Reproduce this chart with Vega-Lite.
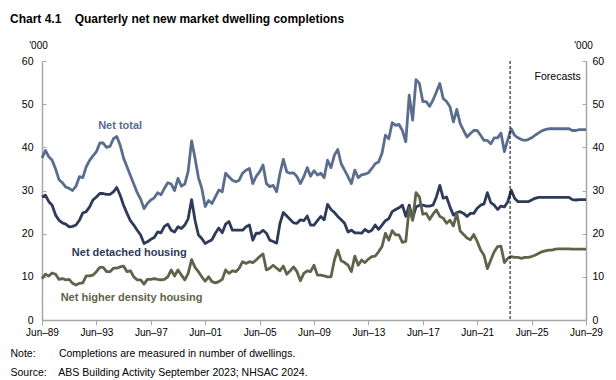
{
  "$schema": "https://vega.github.io/schema/vega-lite/v6.json",
  "width": 544,
  "height": 259,
  "autosize": {"type": "none"},
  "padding": {"left": 42, "top": 61, "right": 30, "bottom": 60},
  "background": "white",
  "config": {"view": {"stroke": null}, "font": "Liberation Sans"},
  "title": {
    "text": "Chart 4.1\u00a0\u00a0\u00a0\u00a0Quarterly net new market dwelling completions",
    "anchor": "start",
    "frame": "group",
    "font": "Liberation Sans",
    "fontSize": 12,
    "fontWeight": "bold",
    "color": "#000000",
    "dx": -32,
    "offset": 14
  },
  "layer": [
    {
      "data": {
        "values": [
          {"d":"1989-06-01","t":37.5,"dh":28.5,"hd":9.6},
          {"d":"1989-09-01","t":39.3,"dh":28.9,"hd":10.6},
          {"d":"1989-12-01","t":37.8,"dh":27.4,"hd":10.2},
          {"d":"1990-03-01","t":37.0,"dh":26.6,"hd":10.9},
          {"d":"1990-06-01","t":35.0,"dh":24.3,"hd":10.6},
          {"d":"1990-09-01","t":32.5,"dh":23.1,"hd":9.4},
          {"d":"1990-12-01","t":31.8,"dh":22.5,"hd":9.6},
          {"d":"1991-03-01","t":30.8,"dh":22.2,"hd":9.3},
          {"d":"1991-06-01","t":30.5,"dh":21.6,"hd":9.4},
          {"d":"1991-09-01","t":30.0,"dh":21.7,"hd":8.5},
          {"d":"1991-12-01","t":31.0,"dh":22.0,"hd":8.1},
          {"d":"1992-03-01","t":33.2,"dh":23.1,"hd":8.5},
          {"d":"1992-06-01","t":33.0,"dh":24.8,"hd":8.6},
          {"d":"1992-09-01","t":35.5,"dh":25.1,"hd":10.2},
          {"d":"1992-12-01","t":37.0,"dh":26.2,"hd":10.2},
          {"d":"1993-03-01","t":38.0,"dh":27.8,"hd":10.4},
          {"d":"1993-06-01","t":39.0,"dh":28.5,"hd":11.2},
          {"d":"1993-09-01","t":41.0,"dh":29.3,"hd":12.2},
          {"d":"1993-12-01","t":41.0,"dh":29.3,"hd":12.2},
          {"d":"1994-03-01","t":40.0,"dh":29.1,"hd":11.2},
          {"d":"1994-06-01","t":40.2,"dh":29.1,"hd":11.2},
          {"d":"1994-09-01","t":42.0,"dh":29.7,"hd":12.0},
          {"d":"1994-12-01","t":42.5,"dh":30.7,"hd":12.0},
          {"d":"1995-03-01","t":40.5,"dh":28.9,"hd":12.3},
          {"d":"1995-06-01","t":37.5,"dh":26.6,"hd":12.5},
          {"d":"1995-09-01","t":35.5,"dh":24.7,"hd":11.2},
          {"d":"1995-12-01","t":33.5,"dh":23.0,"hd":11.4},
          {"d":"1996-03-01","t":31.5,"dh":22.0,"hd":10.0},
          {"d":"1996-06-01","t":29.5,"dh":20.8,"hd":9.3},
          {"d":"1996-09-01","t":28.0,"dh":19.7,"hd":9.3},
          {"d":"1996-12-01","t":25.8,"dh":17.7,"hd":8.3},
          {"d":"1997-03-01","t":27.0,"dh":18.1,"hd":9.4},
          {"d":"1997-06-01","t":27.8,"dh":18.7,"hd":9.4},
          {"d":"1997-09-01","t":28.3,"dh":19.1,"hd":9.6},
          {"d":"1997-12-01","t":29.5,"dh":20.4,"hd":9.4},
          {"d":"1998-03-01","t":29.0,"dh":20.2,"hd":9.3},
          {"d":"1998-06-01","t":30.5,"dh":21.7,"hd":9.4},
          {"d":"1998-09-01","t":31.8,"dh":22.2,"hd":10.0},
          {"d":"1998-12-01","t":31.5,"dh":20.8,"hd":11.6},
          {"d":"1999-03-01","t":30.0,"dh":20.4,"hd":10.2},
          {"d":"1999-06-01","t":32.8,"dh":21.6,"hd":11.6},
          {"d":"1999-09-01","t":31.0,"dh":21.2,"hd":10.4},
          {"d":"1999-12-01","t":31.5,"dh":22.0,"hd":9.3},
          {"d":"2000-03-01","t":34.5,"dh":23.5,"hd":10.8},
          {"d":"2000-06-01","t":41.5,"dh":27.9,"hd":14.0},
          {"d":"2000-09-01","t":37.5,"dh":23.1,"hd":12.2},
          {"d":"2000-12-01","t":33.0,"dh":19.7,"hd":11.2},
          {"d":"2001-03-01","t":30.5,"dh":18.9,"hd":10.0},
          {"d":"2001-06-01","t":26.3,"dh":17.7,"hd":9.0},
          {"d":"2001-09-01","t":27.7,"dh":18.2,"hd":10.0},
          {"d":"2001-12-01","t":27.0,"dh":18.6,"hd":8.9},
          {"d":"2002-03-01","t":28.5,"dh":20.1,"hd":8.6},
          {"d":"2002-06-01","t":30.1,"dh":21.3,"hd":8.9},
          {"d":"2002-09-01","t":29.7,"dh":20.2,"hd":9.4},
          {"d":"2002-12-01","t":34.0,"dh":22.2,"hd":11.6},
          {"d":"2003-03-01","t":33.2,"dh":22.8,"hd":10.8},
          {"d":"2003-06-01","t":32.4,"dh":20.8,"hd":11.4},
          {"d":"2003-09-01","t":32.0,"dh":20.8,"hd":11.2},
          {"d":"2003-12-01","t":32.4,"dh":20.8,"hd":12.0},
          {"d":"2004-03-01","t":34.0,"dh":20.8,"hd":13.5},
          {"d":"2004-06-01","t":34.7,"dh":21.6,"hd":13.1},
          {"d":"2004-09-01","t":35.1,"dh":22.0,"hd":13.5},
          {"d":"2004-12-01","t":31.6,"dh":18.5,"hd":13.3},
          {"d":"2005-03-01","t":33.3,"dh":20.1,"hd":13.9},
          {"d":"2005-06-01","t":34.3,"dh":20.1,"hd":14.7},
          {"d":"2005-09-01","t":35.9,"dh":20.8,"hd":15.3},
          {"d":"2005-12-01","t":31.6,"dh":20.1,"hd":11.6},
          {"d":"2006-03-01","t":30.9,"dh":18.5,"hd":12.0},
          {"d":"2006-06-01","t":31.2,"dh":18.2,"hd":12.7},
          {"d":"2006-09-01","t":29.7,"dh":17.8,"hd":12.0},
          {"d":"2006-12-01","t":34.0,"dh":22.4,"hd":11.4},
          {"d":"2007-03-01","t":37.2,"dh":24.9,"hd":12.5},
          {"d":"2007-06-01","t":34.3,"dh":24.1,"hd":10.6},
          {"d":"2007-09-01","t":34.0,"dh":23.3,"hd":11.4},
          {"d":"2007-12-01","t":34.1,"dh":22.5,"hd":12.3},
          {"d":"2008-03-01","t":33.2,"dh":22.4,"hd":11.2},
          {"d":"2008-06-01","t":31.6,"dh":23.2,"hd":9.1},
          {"d":"2008-09-01","t":33.2,"dh":23.0,"hd":10.8},
          {"d":"2008-12-01","t":35.3,"dh":24.1,"hd":11.4},
          {"d":"2009-03-01","t":33.3,"dh":22.0,"hd":11.2},
          {"d":"2009-06-01","t":34.6,"dh":22.0,"hd":12.7},
          {"d":"2009-09-01","t":33.6,"dh":23.0,"hd":10.4},
          {"d":"2009-12-01","t":34.0,"dh":24.0,"hd":10.4},
          {"d":"2010-03-01","t":33.0,"dh":23.2,"hd":10.2},
          {"d":"2010-06-01","t":37.0,"dh":26.8,"hd":10.0},
          {"d":"2010-09-01","t":35.3,"dh":25.6,"hd":10.0},
          {"d":"2010-12-01","t":38.2,"dh":24.9,"hd":13.9},
          {"d":"2011-03-01","t":39.5,"dh":24.0,"hd":16.2},
          {"d":"2011-06-01","t":36.2,"dh":23.2,"hd":13.7},
          {"d":"2011-09-01","t":34.7,"dh":22.4,"hd":13.3},
          {"d":"2011-12-01","t":33.2,"dh":20.4,"hd":12.7},
          {"d":"2012-03-01","t":31.6,"dh":20.8,"hd":11.2},
          {"d":"2012-06-01","t":34.7,"dh":20.2,"hd":14.8},
          {"d":"2012-09-01","t":33.0,"dh":20.2,"hd":12.7},
          {"d":"2012-12-01","t":33.6,"dh":20.1,"hd":13.9},
          {"d":"2013-03-01","t":33.8,"dh":21.0,"hd":13.3},
          {"d":"2013-06-01","t":34.1,"dh":20.4,"hd":14.1},
          {"d":"2013-09-01","t":35.1,"dh":20.8,"hd":14.7},
          {"d":"2013-12-01","t":36.2,"dh":22.0,"hd":14.8},
          {"d":"2014-03-01","t":36.6,"dh":21.0,"hd":15.8},
          {"d":"2014-06-01","t":38.6,"dh":22.0,"hd":17.0},
          {"d":"2014-09-01","t":42.8,"dh":23.0,"hd":20.1},
          {"d":"2014-12-01","t":42.0,"dh":23.5,"hd":18.5},
          {"d":"2015-03-01","t":45.7,"dh":25.1,"hd":20.7},
          {"d":"2015-06-01","t":45.1,"dh":25.6,"hd":19.7},
          {"d":"2015-09-01","t":45.3,"dh":26.0,"hd":19.7},
          {"d":"2015-12-01","t":43.9,"dh":26.6,"hd":18.0},
          {"d":"2016-03-01","t":41.3,"dh":24.0,"hd":18.2},
          {"d":"2016-06-01","t":52.1,"dh":26.6,"hd":25.9},
          {"d":"2016-09-01","t":46.3,"dh":23.5,"hd":23.1},
          {"d":"2016-12-01","t":55.7,"dh":26.2,"hd":29.5},
          {"d":"2017-03-01","t":54.8,"dh":26.6,"hd":28.5},
          {"d":"2017-06-01","t":50.6,"dh":26.6,"hd":24.5},
          {"d":"2017-09-01","t":50.6,"dh":26.4,"hd":24.7},
          {"d":"2017-12-01","t":49.5,"dh":26.4,"hd":23.3},
          {"d":"2018-03-01","t":50.9,"dh":26.6,"hd":24.5},
          {"d":"2018-06-01","t":52.8,"dh":28.5,"hd":25.5},
          {"d":"2018-09-01","t":54.8,"dh":31.2,"hd":24.0},
          {"d":"2018-12-01","t":51.3,"dh":28.2,"hd":23.6},
          {"d":"2019-03-01","t":50.6,"dh":28.5,"hd":22.4},
          {"d":"2019-06-01","t":49.4,"dh":26.2,"hd":23.1},
          {"d":"2019-09-01","t":45.9,"dh":24.3,"hd":21.8},
          {"d":"2019-12-01","t":48.8,"dh":24.9,"hd":24.7},
          {"d":"2020-03-01","t":45.5,"dh":25.1,"hd":20.6},
          {"d":"2020-06-01","t":43.9,"dh":24.7,"hd":19.8},
          {"d":"2020-09-01","t":42.4,"dh":24.0,"hd":19.0},
          {"d":"2020-12-01","t":43.2,"dh":24.7,"hd":18.6},
          {"d":"2021-03-01","t":43.9,"dh":24.7,"hd":19.8},
          {"d":"2021-06-01","t":43.9,"dh":25.9,"hd":18.2},
          {"d":"2021-09-01","t":42.8,"dh":26.6,"hd":16.2},
          {"d":"2021-12-01","t":41.6,"dh":26.9,"hd":15.0},
          {"d":"2022-03-01","t":41.6,"dh":29.5,"hd":11.9},
          {"d":"2022-06-01","t":40.8,"dh":27.2,"hd":13.9},
          {"d":"2022-09-01","t":42.2,"dh":26.6,"hd":15.8},
          {"d":"2022-12-01","t":42.2,"dh":25.6,"hd":17.0},
          {"d":"2023-03-01","t":43.3,"dh":26.4,"hd":17.1},
          {"d":"2023-06-01","t":39.0,"dh":26.2,"hd":13.3},
          {"d":"2023-09-01","t":41.8,"dh":27.4,"hd":14.3},
          {"d":"2023-12-01","t":44.3,"dh":30.1,"hd":14.7},
          {"d":"2024-03-01","t":42.8,"dh":28.2,"hd":14.5},
          {"d":"2024-06-01","t":42.2,"dh":27.4,"hd":14.5},
          {"d":"2024-09-01","t":41.8,"dh":27.4,"hd":14.3},
          {"d":"2024-12-01","t":41.6,"dh":27.4,"hd":14.5},
          {"d":"2025-03-01","t":41.8,"dh":27.4,"hd":14.5},
          {"d":"2025-06-01","t":42.2,"dh":27.8,"hd":14.7},
          {"d":"2025-09-01","t":42.8,"dh":28.2,"hd":15.0},
          {"d":"2025-12-01","t":43.3,"dh":28.4,"hd":15.4},
          {"d":"2026-03-01","t":43.8,"dh":28.4,"hd":15.8},
          {"d":"2026-06-01","t":44.1,"dh":28.4,"hd":16.0},
          {"d":"2026-09-01","t":44.3,"dh":28.4,"hd":16.2},
          {"d":"2026-12-01","t":44.3,"dh":28.4,"hd":16.2},
          {"d":"2027-03-01","t":44.3,"dh":28.4,"hd":16.4},
          {"d":"2027-06-01","t":44.3,"dh":28.4,"hd":16.5},
          {"d":"2027-09-01","t":44.3,"dh":28.4,"hd":16.5},
          {"d":"2027-12-01","t":44.3,"dh":28.4,"hd":16.5},
          {"d":"2028-03-01","t":44.3,"dh":28.4,"hd":16.5},
          {"d":"2028-06-01","t":43.9,"dh":27.9,"hd":16.4},
          {"d":"2028-09-01","t":43.9,"dh":27.8,"hd":16.4},
          {"d":"2028-12-01","t":44.1,"dh":27.9,"hd":16.4},
          {"d":"2029-03-01","t":44.1,"dh":27.9,"hd":16.4},
          {"d":"2029-06-01","t":44.1,"dh":27.9,"hd":16.4}
        ]
      },
      "transform": [{"fold": ["t", "dh", "hd"], "as": ["s", "value"]}],
      "mark": {"type": "line", "strokeWidth": 2.8, "strokeJoin": "round"},
      "encoding": {
        "x": {
          "field": "d",
          "type": "temporal",
          "scale": {
            "type": "utc",
            "domain": [
              {"year": 1989, "month": 6, "date": 1, "utc": true},
              {"year": 2029, "month": 6, "date": 1, "utc": true}
            ]
          },
          "axis": {
            "values": [
              {"year": 1989, "month": 6, "date": 1, "utc": true},
              {"year": 1993, "month": 6, "date": 1, "utc": true},
              {"year": 1997, "month": 6, "date": 1, "utc": true},
              {"year": 2001, "month": 6, "date": 1, "utc": true},
              {"year": 2005, "month": 6, "date": 1, "utc": true},
              {"year": 2009, "month": 6, "date": 1, "utc": true},
              {"year": 2013, "month": 6, "date": 1, "utc": true},
              {"year": 2017, "month": 6, "date": 1, "utc": true},
              {"year": 2021, "month": 6, "date": 1, "utc": true},
              {"year": 2025, "month": 6, "date": 1, "utc": true},
              {"year": 2029, "month": 6, "date": 1, "utc": true}
            ],
            "labelExpr": "utcFormat(datum.value, '%b\u2013%y')",
            "grid": false,
            "labelFlush": false,
            "labelOverlap": false,
            "domainColor": "#a6a6a6",
            "domainWidth": 1.5,
            "tickColor": "#a6a6a6",
            "tickSize": 5,
            "tickWidth": 1,
            "labelPadding": 2,
            "labelFont": "Liberation Sans",
            "labelFontSize": 10,
            "labelColor": "#000000",
            "title": [
              "Note:\u00a0\u00a0\u00a0\u00a0\u00a0\u00a0\u00a0\u00a0Completions are measured in number of dwellings.",
              "Source:\u00a0\u00a0\u00a0\u00a0ABS Building Activity September 2023; NHSAC 2024."
            ],
            "titleFont": "Liberation Sans",
            "titleFontSize": 10.5,
            "titleFontWeight": "normal",
            "titleColor": "#000000",
            "titleAlign": "left",
            "titleAnchor": "start",
            "titleBaseline": "alphabetic",
            "titleX": -32,
            "titleY": 36,
            "titleLineHeight": 19
          }
        },
        "y": {
          "field": "value",
          "type": "quantitative",
          "scale": {"domain": [0, 60]},
          "axis": {
            "orient": "left",
            "values": [0, 10, 20, 30, 40, 50, 60],
            "grid": false,
            "domainColor": "#a6a6a6",
            "domainWidth": 1.5,
            "tickColor": "#a6a6a6",
            "tickSize": -4,
            "tickWidth": 1,
            "labelPadding": 13,
            "labelFont": "Liberation Sans",
            "labelFontSize": 10.5,
            "labelColor": "#000000",
            "title": "'000",
            "titleAngle": 0,
            "titleX": -4,
            "titleY": -16,
            "titleAlign": "center",
            "titleBaseline": "middle",
            "titleFont": "Liberation Sans",
            "titleFontSize": 10,
            "titleFontWeight": "normal",
            "titleColor": "#000000"
          }
        },
        "color": {
          "field": "s",
          "type": "nominal",
          "scale": {"domain": ["t", "dh", "hd"], "range": ["#5b6d8f", "#2d3a58", "#5d6449"]},
          "legend": null
        }
      }
    },
    {
      "data": {"values": [{"d": "2023-11-01"}]},
      "mark": {"type": "rule", "color": "#000000", "strokeWidth": 1, "strokeDash": [3, 2]},
      "encoding": {"x": {"field": "d", "type": "temporal"}}
    },
    {
      "data": {
        "values": [
          {"d": "1995-03-01", "v": 44.9, "s": "t", "label": "Net total"},
          {"d": "1995-11-01", "v": 15.6, "s": "dh", "label": "Net detached housing"},
          {"d": "1996-01-01", "v": 5.1, "s": "hd", "label": "Net higher density housing"}
        ]
      },
      "mark": {"type": "text", "font": "Liberation Sans", "fontSize": 11, "fontWeight": "bold", "baseline": "middle", "align": "center"},
      "encoding": {
        "x": {"field": "d", "type": "temporal"},
        "y": {
          "field": "v",
          "type": "quantitative",
          "scale": {"domain": [0, 60]},
          "axis": {
            "orient": "right",
            "values": [0, 10, 20, 30, 40, 50, 60],
            "grid": false,
            "domainColor": "#a6a6a6",
            "domainWidth": 1.5,
            "tickColor": "#a6a6a6",
            "tickSize": -4,
            "tickWidth": 1,
            "labelPadding": 10,
            "labelFont": "Liberation Sans",
            "labelFontSize": 10.5,
            "labelColor": "#000000",
            "title": "'000",
            "titleAngle": 0,
            "titleX": -3,
            "titleY": -16,
            "titleAlign": "center",
            "titleBaseline": "middle",
            "titleFont": "Liberation Sans",
            "titleFontSize": 10,
            "titleFontWeight": "normal",
            "titleColor": "#000000"
          }
        },
        "text": {"field": "label"},
        "color": {
          "field": "s",
          "type": "nominal",
          "scale": {"domain": ["t", "dh", "hd"], "range": ["#5b6d8f", "#2d3a58", "#5d6449"]},
          "legend": null
        }
      }
    },
    {
      "data": {"values": [{"d": "2027-05-01", "v": 56.25, "label": "Forecasts"}]},
      "mark": {"type": "text", "font": "Liberation Sans", "fontSize": 10.5, "baseline": "middle", "align": "center", "color": "#000000"},
      "encoding": {
        "x": {"field": "d", "type": "temporal"},
        "y": {"field": "v", "type": "quantitative", "scale": {"domain": [0, 60]}, "axis": null},
        "text": {"field": "label"}
      }
    }
  ],
  "resolve": {"scale": {"y": "independent"}}
}
